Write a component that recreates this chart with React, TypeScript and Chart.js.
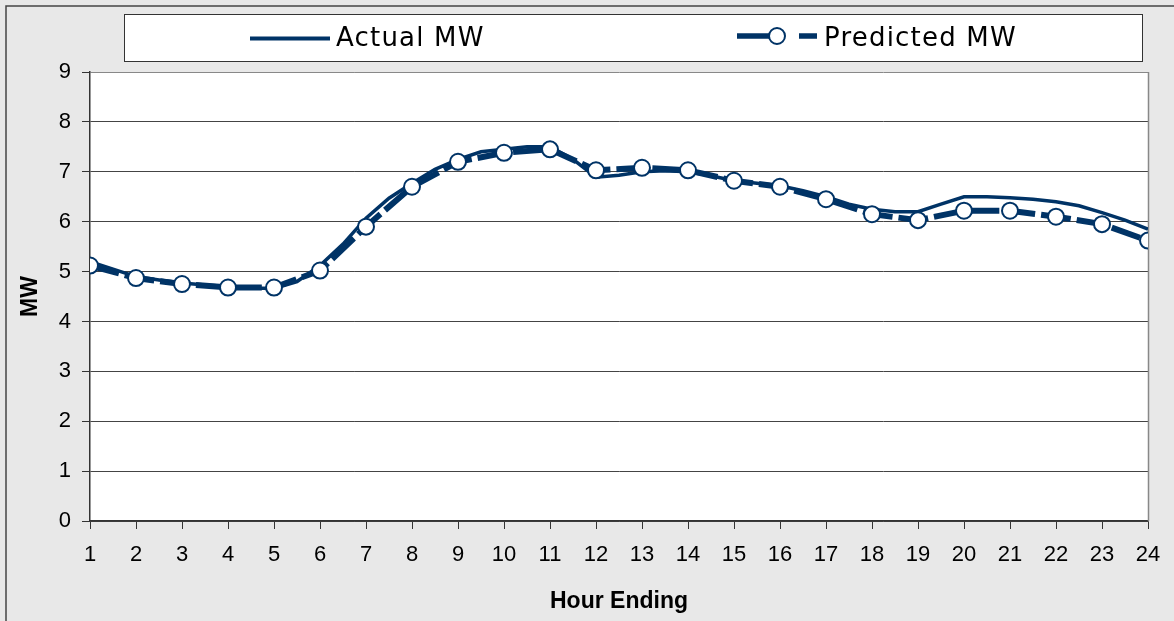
import React, { useEffect, useRef } from "react";
import { Chart, registerables } from "chart.js";

Chart.register(...registerables);

const hours: number[] = [1, 2, 3, 4, 5, 6, 7, 8, 9, 10, 11, 12, 13, 14, 15, 16, 17, 18, 19, 20, 21, 22, 23, 24];
const predictedMW: number[] = [5.12, 4.87, 4.75, 4.68, 4.68, 5.02, 5.9, 6.7, 7.2, 7.38, 7.45, 7.03, 7.08, 7.03, 6.82, 6.7, 6.45, 6.15, 6.03, 6.22, 6.22, 6.1, 5.95, 5.62];

const actualHours: number[] = [1, 1.5, 2, 2.5, 3, 3.5, 4, 4.5, 5, 5.5, 6, 6.5, 7, 7.5, 8, 8.5, 9, 9.5, 10, 10.5, 11, 11.5, 12, 12.5, 13, 13.5, 14, 14.5, 15, 15.5, 16, 16.5, 17, 17.5, 18, 18.5, 19, 19.5, 20, 20.5, 21, 21.5, 22, 22.5, 23, 23.5, 24];
const actualMW: number[] = [5.2, 5.05, 4.9, 4.83, 4.77, 4.73, 4.7, 4.67, 4.66, 4.8, 5.12, 5.55, 6.07, 6.47, 6.77, 7.05, 7.25, 7.4, 7.45, 7.5, 7.5, 7.25, 6.89, 6.93, 7.0, 7.02, 7.0, 6.92, 6.82, 6.77, 6.72, 6.62, 6.5, 6.35, 6.25, 6.2, 6.2, 6.35, 6.5, 6.5, 6.48, 6.45, 6.4, 6.32, 6.18, 6.03, 5.85];

const yTicks: number[] = [0, 1, 2, 3, 4, 5, 6, 7, 8, 9];
const legendLabels: string[] = ["Actual MW", "Predicted MW"];
const xTitle = "Hour Ending";
const yTitle = "MW";

const NAVY = "#003366";

const framePlugin = {
  id: "frame",
  beforeDraw(chart: any) {
    const { ctx, width, height, chartArea } = chart;
    ctx.save();
    ctx.fillStyle = "#e8e8e8";
    ctx.fillRect(0, 0, width, height);
    ctx.strokeStyle = "#444";
    ctx.lineWidth = 1.5;
    ctx.strokeRect(6, 6, width + 20, height + 20);
    ctx.fillStyle = "#ffffff";
    ctx.fillRect(chartArea.left, chartArea.top, chartArea.right - chartArea.left, chartArea.bottom - chartArea.top);
    // legend box
    ctx.fillStyle = "#ffffff";
    ctx.fillRect(124, 14, 1018, 47);
    ctx.strokeStyle = "#333";
    ctx.lineWidth = 1;
    ctx.strokeRect(124.5, 14.5, 1018, 47);
    // legend: actual
    ctx.strokeStyle = NAVY;
    ctx.lineWidth = 4;
    ctx.beginPath();
    ctx.moveTo(250, 38.5);
    ctx.lineTo(330, 38.5);
    ctx.stroke();
    // legend: predicted
    ctx.lineWidth = 5.5;
    ctx.beginPath();
    ctx.moveTo(737, 36);
    ctx.lineTo(770, 36);
    ctx.moveTo(799, 36);
    ctx.lineTo(817, 36);
    ctx.stroke();
    ctx.beginPath();
    ctx.arc(777, 36, 8, 0, Math.PI * 2);
    ctx.fillStyle = "#ffffff";
    ctx.fill();
    ctx.lineWidth = 2;
    ctx.stroke();
    ctx.fillStyle = "#000";
    ctx.font = '500 26px "DejaVu Sans"';
    ctx.textBaseline = "alphabetic";
    ctx.textAlign = "left";
    try { (ctx as any).letterSpacing = "1.2px"; } catch (e) {}
    ctx.fillText(legendLabels[0], 336, 46);
    ctx.fillText(legendLabels[1], 824, 46);
    try { (ctx as any).letterSpacing = "0px"; } catch (e) {}
    ctx.restore();
  },
  beforeDatasetsDraw(chart: any) {
    const { ctx, chartArea } = chart;
    ctx.save();
    ctx.strokeStyle = "#888";
    ctx.lineWidth = 1.5;
    ctx.beginPath();
    ctx.moveTo(chartArea.right + 0.5, chartArea.top);
    ctx.lineTo(chartArea.right + 0.5, chartArea.bottom);
    ctx.stroke();
    ctx.restore();
  },
};

export default function App() {
  const ref = useRef<HTMLCanvasElement>(null);
  useEffect(() => {
    if (!ref.current) return;
    const chart = new Chart(ref.current, {
      type: "line",
      data: {
        datasets: [
          {
            label: legendLabels[1],
            data: hours.map((h, i) => ({ x: h, y: predictedMW[i] })),
            borderColor: NAVY,
            borderWidth: 6,
            borderDash: [30, 6],
            pointRadius: 8,
            pointBorderWidth: 2,
            pointBackgroundColor: "#ffffff",
            pointBorderColor: NAVY,
            order: 0,
          },
          {
            label: legendLabels[0],
            data: actualHours.map((h, i) => ({ x: h, y: actualMW[i] })),
            borderColor: NAVY,
            borderWidth: 3.5,
            pointRadius: 0,
            order: 1,
          },
        ],
      },
      plugins: [framePlugin],
      options: {
        responsive: false,
        animation: false,
        events: [],
        layout: { padding: { left: 0, top: 72, right: 26, bottom: 0 } },
        plugins: { legend: { display: false }, tooltip: { enabled: false } },
        scales: {
          x: {
            type: "linear",
            min: 1,
            max: 24,
            afterFit: (s: any) => { s.height = 100; },
            ticks: {
              stepSize: 1,
              autoSkip: false,
              maxRotation: 0,
              color: "#000",
              padding: 13,
              font: { family: '"Liberation Sans", Arial', size: 22 },
            },
            grid: { drawOnChartArea: false, drawTicks: true, tickLength: 8, tickColor: "#333" },
            border: { display: true, color: "#333", width: 1.5 },
            title: {
              display: true,
              text: xTitle,
              color: "#000",
              font: { family: '"Liberation Sans", Arial', size: 23, weight: "bold" },
              padding: { top: 0, bottom: 6 },
            },
          },
          y: {
            min: 0,
            max: 9,
            afterFit: (s: any) => { s.width = 90; },
            afterBuildTicks: (s: any) => { s.ticks = yTicks.map((v) => ({ value: v })); },
            ticks: {
              stepSize: 1,
              color: "#000",
              padding: 11,
              font: { family: '"Liberation Sans", Arial', size: 22 },
            },
            grid: {
              color: (c: any) => (c.tick && c.tick.value === 9 ? "#888" : "#444"),
              lineWidth: 1,
              tickLength: 8,
              tickColor: "#333",
            },
            border: { display: true, color: "#333", width: 1.5 },
            title: {
              display: true,
              text: yTitle,
              color: "#000",
              font: { family: '"Liberation Sans", Arial', size: 23, weight: "bold" },
              padding: { top: 17, bottom: 0 },
            },
          },
        },
      },
    } as any);
    return () => chart.destroy();
  }, []);
  return (
    <div style={{ position: "fixed", left: 0, top: 0, width: 1174, height: 621 }}>
      <canvas ref={ref} width={1174} height={621} style={{ width: 1174, height: 621, display: "block" }} />
    </div>
  );
}
